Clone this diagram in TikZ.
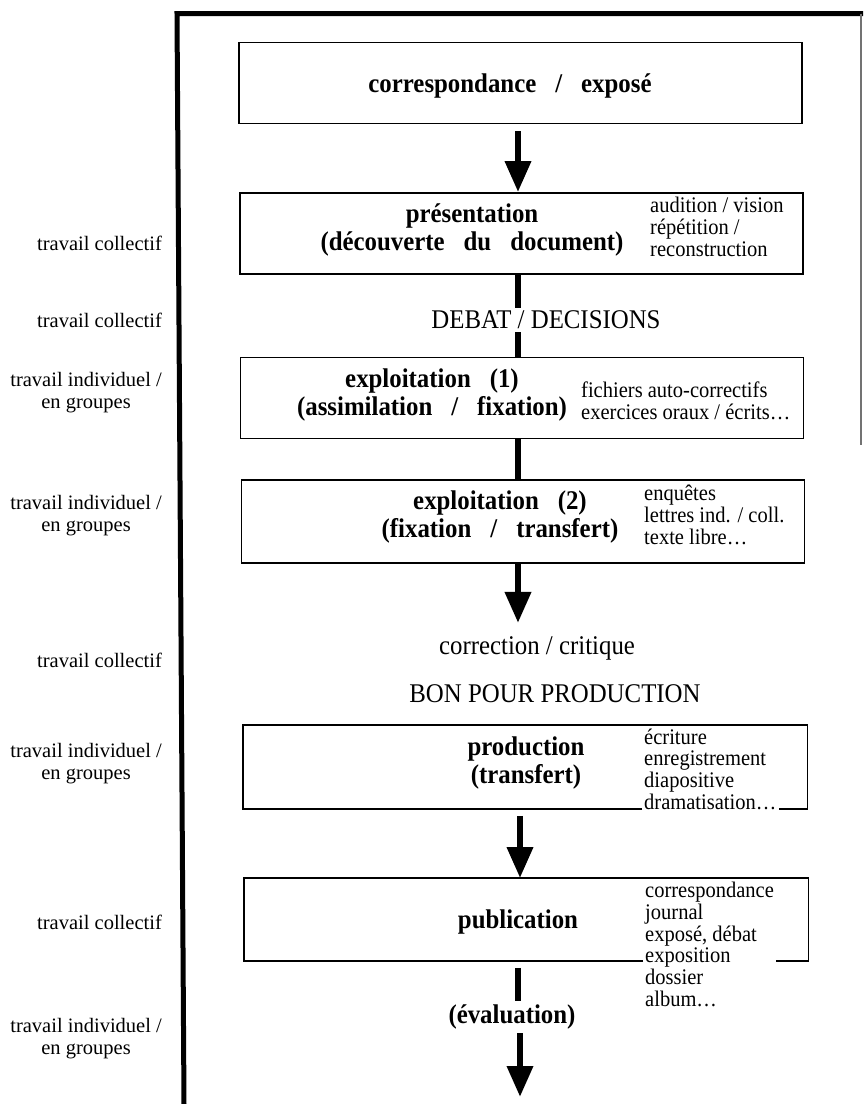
\documentclass[tikz,border=0pt]{standalone}
\usepackage{fontspec}
\setmainfont{Liberation Serif}
\newfontfamily\narrowrm[FakeStretch=0.92]{Liberation Serif}
\usetikzlibrary{positioning, arrows.meta}

\begin{document}
\begin{tikzpicture}[
  x=1pt, y=-1pt,
  box/.style={rectangle, draw, line width=1.8pt, minimum width=563pt,
              minimum height=81pt, inner sep=0pt},
  openbox/.style={box, draw=none},
  title/.style={align=center, inner sep=1pt,
                font={\narrowrm\bfseries\fontsize{27}{28}\selectfont\spaceskip=19pt\relax}},
  list/.style={anchor=west, align=left, inner sep=2pt,
               font={\narrowrm\fontsize{22.3}{21.7}\selectfont}},
  side/.style={anchor=east, align=center, inner sep=0pt,
               font=\fontsize{20.5}{22}\selectfont},
  stage/.style={inner sep=3pt, font={\narrowrm\fontsize{27}{28}\selectfont}},
  arr/.style={line width=6.5pt, -{Triangle[width=25pt, length=31pt]}},
  link/.style={line width=6.5pt},
]
\useasboundingbox (0,0) rectangle (863,1104);

% cadre
\draw[line width=5pt] (184,1104) -- (177,13.5) -- (863,13.5);
\draw[line width=1.5pt, black!55] (861,13.5) -- (861,445);
\coordinate (spine) at (518,0);

% etapes
\node[box] (corr) at (520.5,83) {};
\node[title] (corrT) at (510,86) {correspondance / exposé};

\node[box] (pres) at (521.5,233.5) {};
\node[title] (presT) at (472,230) {présentation\\(découverte du document)};
\node[list] (presL) at (648,227) {audition / vision\\répétition /\\reconstruction};

\node[stage] (debat) at (546,320) {DEBAT / DECISIONS};

\node[box] (expA) at (522,398) {};
\node[title] (expAT) at (432,394.5) {exploitation (1)\\(assimilation / fixation)};
\node[list] (expAL) at (579,401) {fichiers auto-correctifs\\exercices oraux / écrits…};

\node[box, minimum height=83pt] (expB) at (523,521.5) {};
\node[title] (expBT) at (500,516.5) {exploitation (2)\\(fixation / transfert)};
\node[list] (expBL) at (642,515) {enquêtes\\lettres ind. / coll.\\texte libre…};

\node[stage] (crit) at (537,648) {correction / critique};
\node[stage] (bon) at (555,694) {BON POUR PRODUCTION};

\node[openbox, minimum height=82pt] (prod) at (525,767) {};
\node[title] (prodT) at (526,763) {production\\(transfert)};
\node[list] (prodL) at (642,769) {écriture\\enregistrement\\diapositive\\dramatisation…};

\node[openbox] (pub) at (526,919.5) {};
\node[title] (pubT) at (518,922) {publication};
\node[list] (pubL) at (643,944.5) {correspondance\\journal\\exposé, débat\\exposition\\dossier\\album…};

\node[title, inner sep=4pt] (eval) at (512,1017) {(évaluation)};
\coordinate (end) at (520,1097);

% boites ouvertes en bas
\draw[line width=1.8pt] (prodL.west |- prod.south) -- (prod.south west)
  |- (prod.north east) |- (prodL.east |- prod.south);
\draw[line width=1.8pt] (pubL.west |- pub.south) -- (pub.south west)
  |- (pub.north east) |- (pubL.east |- pub.south);

% modes de travail
\node[side] (lab1) at (162,243) {travail collectif};
\node[side] (lab2) at (162,320) {travail collectif};
\node[side] (lab3) at (162,392.5) {travail individuel /\\en groupes};
\node[side] (lab4) at (162,516) {travail individuel /\\en groupes};
\node[side] (lab5) at (162,660) {travail collectif};
\node[side] (lab6) at (162,764) {travail individuel /\\en groupes};
\node[side] (lab7) at (162,922) {travail collectif};
\node[side] (lab8) at (162,1038.5) {travail individuel /\\en groupes};

% liaisons
\draw[arr, shorten <=7pt] (corr.south -| spine) -- (pres.north -| spine);
\draw[link] (pres.south -| spine) -- (debat.north -| spine);
\draw[link] (debat.south -| spine) -- (expA.north -| spine);
\draw[link] (expA.south -| spine) -- (expB.north -| spine);
\draw[arr, shorten >=10pt] (expB.south -| spine) -- (crit.north -| spine);
\draw[arr, shorten <=7pt] ([xshift=2pt]prod.south -| spine) -- ([xshift=2pt]pub.north -| spine);
\draw[link, shorten <=7pt] (pub.south -| spine) -- (eval.north -| spine);
\draw[arr] ([xshift=2pt]eval.south -| spine) -- (end);
\end{tikzpicture}
\end{document}
